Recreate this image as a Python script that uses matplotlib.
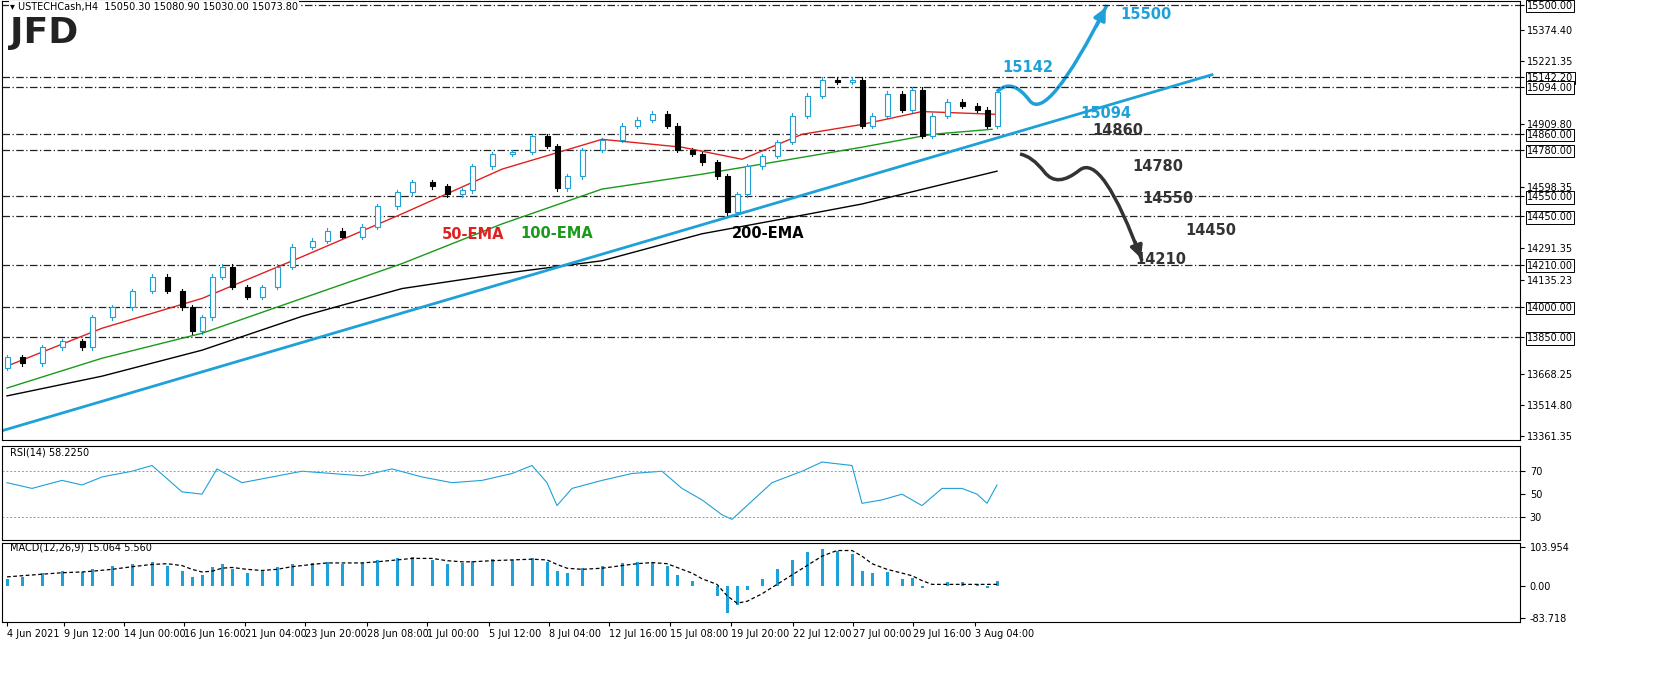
import matplotlib
matplotlib.use("Agg")
import matplotlib.pyplot as plt
import matplotlib.path as mpath, matplotlib.patches as mpatches

# ---- data ----
bar_x = [5,20,40,60,80,90,110,130,150,165,180,190,200,210,220,230,245,260,275,290,310,325,340,360,375,395,410,430,445,460,470,490,510,530,545,555,565,580,600,620,635,650,665,675,690,700,715,725,735,745,760,775,790,805,820,835,850,860,870,885,900,910,920,930,945,960,975,985,995]
closes = [13750,13720,13800,13830,13800,13950,14000,14080,14150,14080,14000,13880,13950,14150,14200,14100,14050,14100,14200,14300,14330,14380,14350,14400,14500,14570,14620,14600,14560,14580,14700,14760,14770,14850,14800,14590,14650,14780,14830,14900,14930,14960,14900,14780,14760,14720,14650,14470,14560,14700,14750,14820,14950,15050,15130,15120,15130,14900,14950,15060,14980,15080,14850,14950,15020,15000,14980,14900,15070]
first_open = 13700

ema50_x = [5,100,200,300,400,500,600,680,740,800,860,920,995]
ema50 = [13707,13895,14043,14250,14463,14685,14833,14794,14734,14858,14907,14971,14957]
ema100_x = [5,100,200,300,400,500,600,700,760,860,930,990]
ema100 = [13598,13746,13870,14043,14216,14413,14586,14660,14710,14794,14858,14883]
ema200_x = [5,100,200,300,400,500,600,700,770,860,995]
ema200 = [13559,13657,13786,13954,14092,14166,14230,14364,14428,14512,14675]

trend_x = [0, 1210]
trend_y = [13386, 15154]

levels = [15500,15142.2,15094,14860,14780,14550,14450,14210,14000,13850]
axis_ticks = [15374.4,15221.35,14909.8,14598.35,14291.35,14135.23,13668.25,13514.8,13361.35]

up_x = [995,1010,1045,1105]
up_y = [15070,15142,14910,15500]
dn_x = [1018,1030,1055,1100,1140]
dn_y = [14760,14750,14590,14770,14230]

rsi_x = [5,30,60,80,100,130,150,180,200,215,240,270,300,330,360,390,420,450,480,510,530,545,555,570,600,630,660,680,700,720,730,745,770,800,820,850,860,880,900,920,940,960,975,985,995]
rsi = [60,55,62,58,65,70,75,52,50,72,60,65,70,68,66,72,65,60,62,68,75,60,40,55,62,68,70,55,45,32,28,40,60,70,78,75,42,45,50,40,55,55,50,42,58]

macd_hist = [20,25,35,40,38,45,55,60,65,55,40,25,30,50,60,45,35,40,50,60,62,65,60,62,70,75,78,70,60,62,68,72,70,75,65,40,35,48,55,62,65,65,55,30,15,0,-25,-70,-50,-10,20,45,70,90,100,95,85,40,35,38,20,22,-5,0,10,10,5,-5,15]
macd_sig = [25,28,32,36,38,40,45,52,58,60,55,45,38,40,48,50,45,42,45,52,58,62,62,62,65,70,74,74,68,65,65,68,70,72,70,58,48,45,48,55,60,63,60,50,35,20,5,-25,-45,-40,-20,5,30,55,80,95,95,80,60,45,35,28,15,5,5,5,5,5,5]

xtick_pos = [5,62,122,182,243,303,365,425,487,547,607,668,729,791,851,911,973]
xtick_lab = ["4 Jun 2021","9 Jun 12:00","14 Jun 00:00","16 Jun 16:00","21 Jun 04:00","23 Jun 20:00",
             "28 Jun 08:00","1 Jul 00:00","5 Jul 12:00","8 Jul 04:00","12 Jul 16:00","15 Jul 08:00",
             "19 Jul 20:00","22 Jul 12:00","27 Jul 00:00","29 Jul 16:00","3 Aug 04:00"]

BLUE = "#1ea0d8"
W, H = 1655, 680
fig = plt.figure(figsize=(W/100, H/100), dpi=100)

def ax_at(top, bottom):
    return fig.add_axes([2/W, 1-bottom/H, 1518/W, (bottom-top)/H])

XMAX = 1518
ax = ax_at(1, 440)
ax.set_xlim(0, XMAX); ax.set_ylim(13340, 15520)
for lv in levels:
    ax.axhline(lv, color="#222", lw=0.9, ls=(0,(6,2,1,2)))
opens = [first_open] + closes[:-1]
for x, o, c in zip(bar_x, opens, closes):
    up = c >= o
    col = BLUE if up else "black"
    hi, lo = max(o, c) + 12, min(o, c) - 12
    ax.plot([x, x], [lo, hi], color=col, lw=0.8)
    ax.bar(x, max(abs(c-o), 3), bottom=min(o, c), width=5,
           color="white" if up else "black", edgecolor=col, lw=0.8, zorder=3)
ax.plot(ema50_x, ema50, color="#e02020", lw=1)
ax.plot(ema100_x, ema100, color="#1a9a1a", lw=1)
ax.plot(ema200_x, ema200, color="black", lw=1)
ax.plot(trend_x, trend_y, color=BLUE, lw=2)

def curve(xs, ys, col):
    verts = list(zip(xs, ys))
    pts = [verts[0]]; codes = [mpath.Path.MOVETO]
    for i in range(1, len(verts)-1):
        last = (i+1 == len(verts)-1)
        mid = verts[-1] if last else ((verts[i][0]+verts[i+1][0])/2, (verts[i][1]+verts[i+1][1])/2)
        pts += [verts[i], mid]; codes += [mpath.Path.CURVE3]*2
    ax.add_patch(mpatches.PathPatch(mpath.Path(pts, codes), fill=False, edgecolor=col, lw=2.5))
    x1, y1 = verts[-1]; x0, y0 = verts[-2]
    ax.annotate("", xy=(x1, y1), xytext=(x1-(x1-x0)*0.2, y1-(y1-y0)*0.2),
                arrowprops=dict(arrowstyle="-|>", color=col, lw=2.5, mutation_scale=18))
curve(up_x, up_y, BLUE)
curve(dn_x, dn_y, "#333")
txt = [("15142",1000,15190,BLUE),("15500",1118,15455,BLUE),("15094",1078,14960,BLUE),
       ("14860",1090,14875,"#333"),("14780",1130,14700,"#333"),("14550",1140,14540,"#333"),
       ("14450",1183,14380,"#333"),("14210",1133,14235,"#333")]
for s, x, y, c in txt:
    ax.text(x, y, s, color=c, fontsize=10.5, fontweight="bold", va="center")
ax.text(440, 14340, "50-EMA", color="#e02020", fontsize=10.5, fontweight="bold")
ax.text(518, 14345, "100-EMA", color="#1a9a1a", fontsize=10.5, fontweight="bold")
ax.text(730, 14345, "200-EMA", color="black", fontsize=10.5, fontweight="bold")
ax.text(8, 15490, "\u25BE USTECHCash,H4  15050.30 15080.90 15030.00 15073.80", fontsize=7, va="center",
        bbox=dict(facecolor="white", edgecolor="none", pad=0.5))
ax.text(8, 15360, "JFD", fontsize=26, fontweight="bold", color="#222", va="center")
ax.yaxis.tick_right()
allt = axis_ticks + levels
ax.set_yticks(allt)
ax.set_yticklabels([f"{v:.2f}" for v in allt], fontsize=7)
for lab in ax.get_yticklabels()[len(axis_ticks):]:
    lab.set_bbox(dict(facecolor="white", edgecolor="black", pad=1, lw=0.7))
ax.tick_params(axis="y", length=3, pad=2)
ax.set_xticks([])

ar = ax_at(446, 540)
ar.set_xlim(0, XMAX); ar.set_ylim(10, 92)
ar.plot(rsi_x, rsi, color=BLUE, lw=0.8)
for lv in (70, 30):
    ar.axhline(lv, color="#999", lw=0.7, ls=(0,(2,2)))
ar.yaxis.tick_right(); ar.set_yticks([70,50,30]); ar.set_yticklabels(["70","50","30"], fontsize=7)
ar.set_xticks([])
ar.text(8, 86, "RSI(14) 58.2250", fontsize=7, va="center")

am = ax_at(543, 622)
am.set_xlim(0, XMAX); am.set_ylim(-95, 115)
am.bar(bar_x, macd_hist, width=3, color=BLUE)
am.plot(bar_x, macd_sig, color="black", lw=0.9, ls=(0,(3,2)))
am.yaxis.tick_right(); am.set_yticks([103.954, 0, -83.718]); am.set_yticklabels(["103.954","0.00","-83.718"], fontsize=7)
am.text(8, 103, "MACD(12,26,9) 15.064 5.560", fontsize=7, va="center")
am.set_xticks(xtick_pos); am.set_xticklabels(xtick_lab, fontsize=7, ha="left")
am.tick_params(axis="x", length=3, pad=2)
fig.savefig("out.png", dpi=100)
